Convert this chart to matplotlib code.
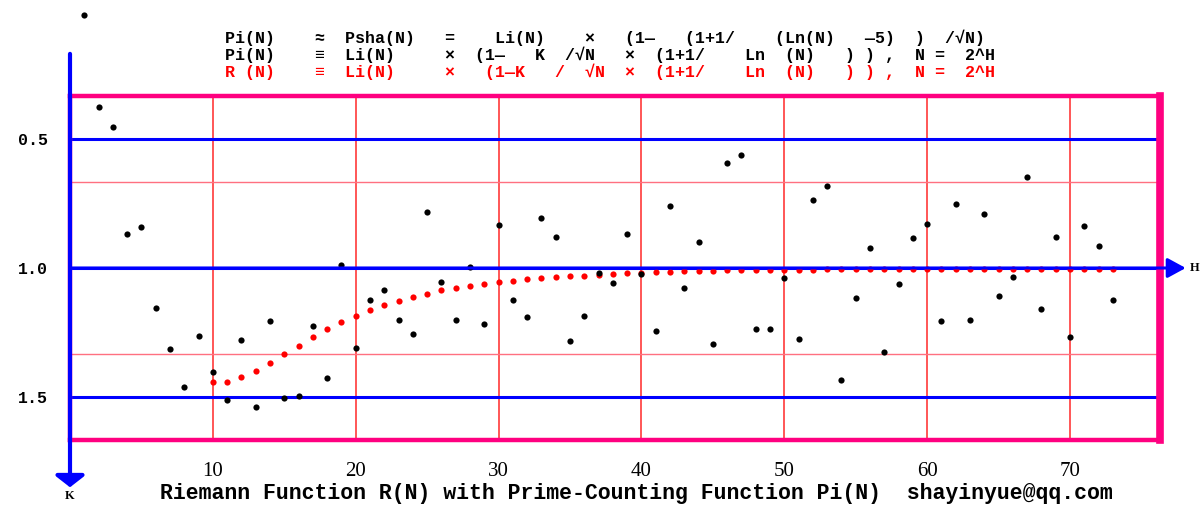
import numpy as np
import matplotlib
matplotlib.use("Agg")
import matplotlib.pyplot as plt

# ----------------------------
# 資料
# ----------------------------
n_black = list(range(1, 74))
pi_ratio = [0.019, 0.376, 0.453, 0.868, 0.841, 1.155, 1.314, 1.461, 1.264, 1.403,
            1.512, 1.279, 1.539, 1.205, 1.504, 1.496, 1.225, 1.426, 0.988, 1.310,
            1.124, 1.085, 1.200, 1.256, 0.783, 1.056, 1.200, 0.995, 1.216, 0.833,
            1.123, 1.190, 0.806, 0.880, 1.284, 1.186, 1.021, 1.059, 0.868, 1.023,
            1.244, 0.760, 1.076, 0.899, 1.293, 0.593, 0.562, 1.236, 1.236, 1.040,
            1.274, 0.736, 0.682, 1.434, 1.116, 0.922, 1.324, 1.063, 0.884, 0.829,
            1.207, 0.752, 1.203, 0.791, 1.110, 1.036, 0.647, 1.160, 0.880, 1.267,
            0.837, 0.915, 1.124]

n_red = list(range(10, 74))
r_ratio = [1.440, 1.440, 1.424, 1.401, 1.367, 1.335, 1.301, 1.267, 1.236, 1.209,
           1.186, 1.163, 1.143, 1.127, 1.114, 1.100, 1.086, 1.076, 1.068, 1.062,
           1.056, 1.050, 1.044, 1.040, 1.036, 1.032, 1.030, 1.026, 1.022, 1.021,
           1.018, 1.017, 1.016, 1.013, 1.012, 1.012, 1.009, 1.009, 1.009, 1.008,
           1.008, 1.006, 1.006, 1.005, 1.005, 1.005, 1.005, 1.005, 1.004, 1.004,
           1.004, 1.003, 1.003, 1.003, 1.003, 1.003, 1.003, 1.003, 1.003, 1.003,
           1.003, 1.003, 1.003, 1.003]

x_ticks = [10, 20, 30, 40, 50, 60, 70]
y_ticks = [0.5, 1.0, 1.5]
y_labels = ["0.5", "1.0", "1.5"]
minor_lines = [2 / 3, 4 / 3]

title_lines = [
    ("Pi(N)    ≈  Psha(N)   =    Li(N)    ×   (1—   (1+1/    (Ln(N)   —5)  )  /√N)", "black"),
    ("Pi(N)    ≡  Li(N)     ×  (1—   K  /√N   ×  (1+1/    Ln  (N)   ) ) ,  N =  2^H", "black"),
    ("R (N)    ≡  Li(N)     ×   (1—K   /  √N  ×  (1+1/    Ln  (N)   ) ) ,  N =  2^H", "red"),
]
caption = "Riemann Function R(N) with Prime-Counting Function Pi(N)  shayinyue@qq.com"

MAGENTA = "#ff0080"
BLUE = "#0000ff"
MONO = ["Liberation Mono", "DejaVu Sans Mono", "Noto Sans CJK SC"]

# ----------------------------
# 繪圖
# ----------------------------
W, H = 1203, 507
fig = plt.figure(figsize=(W / 100, H / 100), dpi=100)
ax = fig.add_axes([70 / W, 1 - 440 / H, 1090 / W, 344 / H])
ax.set_xlim(0, 76.3)
ax.set_ylim(5 / 3, 1 / 3)

# 格線
for x in x_ticks:
    ax.axvline(x, color="#ff2828", lw=1.1, zorder=1)
for y in minor_lines:
    ax.axhline(y, color="#ff7080", lw=1.0, zorder=1)
for y in y_ticks:
    ax.axhline(y, color=BLUE, lw=2.2, zorder=2)

# 框
for side in ["top", "bottom", "left"]:
    ax.spines[side].set_color(MAGENTA)
    ax.spines[side].set_linewidth(3.2)
ax.spines["right"].set_color(MAGENTA)
ax.spines["right"].set_linewidth(5.5)

# 座標軸箭頭
ax.annotate("", xy=(0, 1.85), xytext=(0, 0.17), annotation_clip=False,
            arrowprops=dict(arrowstyle="-|>,head_length=0.7,head_width=0.9",
                            color=BLUE, lw=3, shrinkA=0, shrinkB=0), zorder=6)
ax.annotate("", xy=(78.1, 1.0), xytext=(0, 1.0), annotation_clip=False,
            arrowprops=dict(arrowstyle="-|>,head_length=1.1,head_width=0.6",
                            color=BLUE, lw=2.2, shrinkA=0, shrinkB=0), zorder=6)
ax.text(0, 1.885, "K", ha="center", va="center", fontsize=9,
        family="Liberation Serif", weight="bold", clip_on=False)
ax.text(78.7, 1.0, "H", ha="center", va="center", fontsize=9,
        family="Liberation Serif", weight="bold", clip_on=False)

# 資料點
ax.scatter(n_red, r_ratio, s=20, color="#ff0000", linewidths=0, zorder=4, clip_on=False)
ax.scatter(n_black, pi_ratio, s=20, color="black", linewidths=0, zorder=5, clip_on=False)

# 刻度
ax.set_xticks(x_ticks)
ax.set_xticklabels([str(x) for x in x_ticks], family="Liberation Serif", fontsize=15)
ax.set_yticks(y_ticks)
ax.set_yticklabels(y_labels, family="Liberation Mono", weight="bold", fontsize=12)
ax.tick_params(axis="x", length=0, pad=16)
ax.tick_params(axis="y", length=0, pad=16)

# 標題
for i, (txt, col) in enumerate(title_lines):
    fig.text(225 / W, 1 - (38 + 17 * i) / H, txt, color=col, fontsize=12,
             family=MONO, weight="bold", ha="left", va="center")

fig.text(160 / W, 1 - 493 / H, caption, fontsize=15.5, family=MONO,
         weight="bold", ha="left", va="center")

fig.savefig("out.png", dpi=100)
